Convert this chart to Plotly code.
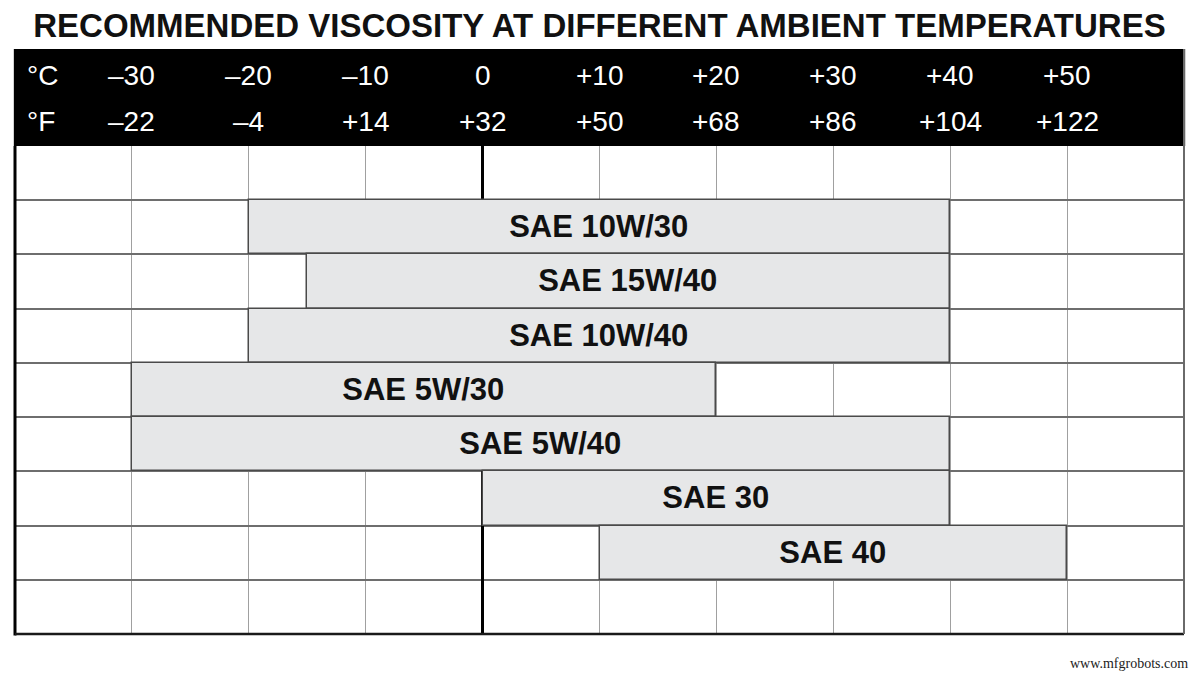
import plotly.graph_objects as go

# ---- data ----
celsius_ticks = [-30, -20, -10, 0, 10, 20, 30, 40, 50]
celsius_labels = ["–30", "–20", "–10", "0", "+10", "+20", "+30", "+40", "+50"]
fahrenheit_labels = ["–22", "–4", "+14", "+32", "+50", "+68", "+86", "+104", "+122"]

oil_names = ["SAE 10W/30", "SAE 15W/40", "SAE 10W/40", "SAE 5W/30", "SAE 5W/40", "SAE 30", "SAE 40"]
oil_rows = [2, 3, 4, 5, 6, 7, 8]
oil_start = [-20, -15, -20, -30, -30, 0, 10]
oil_end = [40, 40, 40, 20, 40, 40, 50]

temp_min, temp_max = -40, 60
n_rows = 9

# page body has an 8px margin; compensate so the figure lands at the reference pixels
OFF = 8
W, H = 1200 - OFF, 675 - OFF

fig = go.Figure()
fig.add_trace(go.Bar(
    orientation="h",
    y=oil_rows,
    x=[e - s for s, e in zip(oil_start, oil_end)],
    base=oil_start,
    width=1,
    text=oil_names,
    textposition="inside",
    insidetextanchor="middle",
    textangle=0,
    textfont=dict(family="Liberation Sans, Arial, sans-serif", size=31, color="#111111", weight="bold"),
    marker=dict(color="#e6e7e8", line=dict(color="#4a4a4a", width=1.5)),
    hoverinfo="skip",
    cliponaxis=False,
))

PH = 488.0  # plot height px
header_top = 1 + 97 / PH

shapes = [
    dict(type="rect", xref="paper", yref="paper", x0=-0.001, x1=1.001, y0=1, y1=header_top,
         fillcolor="black", line=dict(width=0), layer="above"),
    dict(type="line", xref="paper", yref="paper", x0=0, x1=0, y0=-0.003, y1=1,
         line=dict(color="black", width=3), layer="above"),
    dict(type="line", xref="paper", yref="paper", x0=0, x1=1, y0=0, y1=0,
         line=dict(color="#1a1a1a", width=2.5), layer="above"),
    dict(type="line", xref="paper", yref="paper", x0=1, x1=1, y0=0, y1=header_top,
         line=dict(color="#6a6a6a", width=2), layer="above"),
]

annotations = []
font_hdr = dict(family="Liberation Sans, Arial, sans-serif", size=28, color="white")
yc = (634 - 75) / PH
yf = (634 - 122) / PH
annotations.append(dict(text="°C", x=10 / 1169, xref="paper", y=yc, yref="paper",
                        xanchor="left", yanchor="middle", showarrow=False, font=font_hdr))
annotations.append(dict(text="°F", x=10 / 1169, xref="paper", y=yf, yref="paper",
                        xanchor="left", yanchor="middle", showarrow=False, font=font_hdr))
for t, cl, fl in zip(celsius_ticks, celsius_labels, fahrenheit_labels):
    annotations.append(dict(text=cl, x=t, xref="x", y=yc, yref="paper",
                            xanchor="center", yanchor="middle", showarrow=False, font=font_hdr))
    annotations.append(dict(text=fl, x=t, xref="x", y=yf, yref="paper",
                            xanchor="center", yanchor="middle", showarrow=False, font=font_hdr))

annotations.append(dict(text="www.mfgrobots.com", x=(1190 - 15) / 1169, xref="paper",
                        y=(634 - 663) / PH, yref="paper",
                        xanchor="right", yanchor="middle", showarrow=False,
                        font=dict(family="Liberation Serif, DejaVu Serif, serif", size=14, color="#222222")))

fig.update_layout(
    width=W, height=H,
    margin=dict(l=15 - OFF, r=W - (1184 - OFF), t=146 - OFF, b=H - (634 - OFF), autoexpand=False),
    paper_bgcolor="white", plot_bgcolor="white",
    showlegend=False,
    title=dict(text="RECOMMENDED VISCOSITY AT DIFFERENT AMBIENT TEMPERATURES",
               x=0.5, xanchor="center", xref="paper", y=1 - (25 - OFF) / H, yanchor="middle", yref="container",
               font=dict(family="Liberation Sans, Arial, sans-serif", size=33, color="#111111", weight="bold")),
    xaxis=dict(range=[temp_min, temp_max], tick0=temp_min, dtick=10, showgrid=True,
               gridcolor="#a0a0a0", gridwidth=1, showticklabels=False, ticks="",
               zeroline=True, zerolinecolor="black", zerolinewidth=3, showline=False, fixedrange=True),
    yaxis=dict(range=[n_rows + 0.5, 0.5], tickvals=[r + 0.5 for r in range(1, n_rows)],
               showgrid=True, gridcolor="#6e6e6e", gridwidth=1.5, showticklabels=False, ticks="",
               zeroline=False, showline=False, fixedrange=True),
    shapes=shapes,
    annotations=annotations,
    bargap=0,
)

fig.write_html("out.html")
